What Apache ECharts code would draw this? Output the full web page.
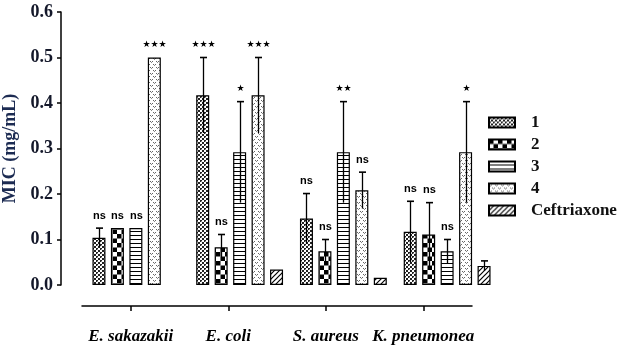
<!DOCTYPE html>
<html><head><meta charset="utf-8">
<script src="https://cdn.jsdelivr.net/npm/echarts@6/dist/echarts.min.js"></script>
<style>html,body{margin:0;padding:0;background:#fff}#c{width:624px;height:348px}</style>
</head><body><div id="c"></div>
<script>
// ---- data ----
const categories = ['E. sakazakii', 'E. coli', 'S. aureus', 'K. pneumonea'];
const seriesNames = ['1', '2', '3', '4', 'Ceftriaxone'];
const s1 = [0.104, 0.417, 0.146, 0.117];
const s2 = [0.125, 0.083, 0.074, 0.111];
const s3 = [0.125, 0.292, 0.292, 0.074];
const s4 = [0.500, 0.417, 0.208, 0.292];
const s5 = [null, 0.034, 0.016, 0.042];
const e1 = [0.021, 0.083, 0.055, 0.067];
const e2 = [0, 0.028, 0.026, 0.070];
const e3 = [0, 0.111, 0.111, 0.026];
const e4 = [0, 0.083, 0.040, 0.111];
const e5 = [0, 0, 0, 0.011];
const sig1 = ['ns', '***', 'ns', 'ns'];
const sig2 = ['ns', 'ns', 'ns', 'ns'];
const sig3 = ['ns', '*', '**', 'ns'];
const sig4 = ['***', '***', 'ns', '*'];
const sig5 = ['', '', '', ''];
const yTicks = [0, 0.1, 0.2, 0.3, 0.4, 0.5, 0.6];

const values = [s1, s2, s3, s4, s5];
const errors = [e1, e2, e3, e4, e5];
const sigs = [sig1, sig2, sig3, sig4, sig5];

// ---- patterns ----
function tile(w, h, draw) {
  const c = document.createElement('canvas');
  c.width = w; c.height = h;
  const g = c.getContext('2d');
  g.fillStyle = '#fff'; g.fillRect(0, 0, w, h);
  draw(g);
  return { image: c, repeat: 'repeat' };
}
const patterns = [
  tile(4, 4, g => { g.fillStyle = '#222'; g.fillRect(0, 0, 2, 2); g.fillRect(2, 2, 2, 2); g.fillStyle='#999'; g.fillRect(1,1,1,1); }),
  tile(9, 9, g => { g.fillStyle = '#000'; g.fillRect(0, 0, 4.5, 4.5); g.fillRect(4.5, 4.5, 4.5, 4.5); }),
  tile(4, 4, g => { g.fillStyle = '#000'; g.fillRect(0, 3, 4, 1.2); }),
  tile(6, 6, g => { g.strokeStyle = '#666'; g.lineWidth = 1; g.beginPath(); g.moveTo(0, 1); g.lineTo(1.5, 2.5); g.lineTo(3, 1); g.moveTo(3, 4); g.lineTo(4.5, 5.5); g.lineTo(6, 4); g.stroke(); }),
  tile(5, 5, g => { g.strokeStyle = '#000'; g.lineWidth = 1.2; g.beginPath(); g.moveTo(-1, 6); g.lineTo(6, -1); g.moveTo(-1, 1); g.lineTo(1, -1); g.moveTo(4, 6); g.lineTo(6, 4); g.stroke(); })
];

const BAR_W = 13, BAR_GAP = 0.42;
const serif = '"Liberation Serif", "Times New Roman", serif';

const series = [];
seriesNames.forEach((name, k) => {
  series.push({
    name, type: 'bar', xAxisIndex: 0, yAxisIndex: 0,
    data: values[k], barWidth: BAR_W, barGap: (BAR_GAP * 100) + '%',
    itemStyle: { color: patterns[k], borderColor: '#000', borderWidth: 1.2 },
    emphasis: { disabled: true }, animation: false
  });
});
seriesNames.forEach((name, k) => {
  series.push({
    type: 'custom', xAxisIndex: 0, yAxisIndex: 0, z: 5, animation: false,
    data: values[k].map((v, i) => [i, v == null ? NaN : v, errors[k][i]]),
    renderItem(params, api) {
      const v = api.value(1);
      if (isNaN(v)) return null;
      const i = params.dataIndex;
      const e = api.value(2);
      const off = (k - 2) * BAR_W * (1 + BAR_GAP);
      const top = api.coord([api.value(0), v + e]);
      const bot = api.coord([api.value(0), v - e]);
      const x = Math.round(top[0] + off) + 0.5;
      const children = [];
      if (e > 0) {
        children.push({ type: 'line', shape: { x1: x, y1: top[1], x2: x, y2: bot[1] }, style: { stroke: '#000', lineWidth: 1.3 } });
        children.push({ type: 'line', shape: { x1: x - 3.5, y1: top[1], x2: x + 3.5, y2: top[1] }, style: { stroke: '#000', lineWidth: 1.6 } });
      }
      const t = sigs[k][i];
      if (t) {
        const isStar = t[0] === '*';
        children.push({ type: 'text', style: {
          text: isStar ? t.replace(/\*/g, '★') : t,
          x: x, y: top[1] - (isStar ? 8 : 7), align: 'center', verticalAlign: 'bottom',
          font: isStar ? '9px "DejaVu Sans"' : 'bold 11px "Liberation Sans"', fill: '#000' } });
      }
      return { type: 'group', children };
    }
  });
});

const chart = echarts.init(document.getElementById('c'), null, { renderer: 'canvas' });
chart.setOption({
  animation: false,
  backgroundColor: '#fff',
  grid: [
    { left: 84, right: 125, top: 12, bottom: 63, containLabel: false, outerBoundsMode: 'none' },
    { left: 82, right: 152, top: 12, bottom: 42, containLabel: false, outerBoundsMode: 'none' }
  ],
  legend: {
    data: seriesNames, orient: 'vertical', left: 483, top: 109,
    itemWidth: 26, itemHeight: 10, itemGap: 5, icon: 'rect',
    textStyle: { fontFamily: serif, fontWeight: 'bold', fontSize: 17, color: '#111', padding: [0, 0, 0, 11] },
    selectedMode: false
  },
  xAxis: [
    { type: 'category', gridIndex: 0, data: categories, show: false },
    { type: 'category', gridIndex: 1, data: categories, show: true,
      axisLine: { show: true, lineStyle: { color: '#000', width: 1.5 } },
      axisTick: { show: true, alignWithLabel: true, interval: 0, length: 5, lineStyle: { color: '#000', width: 1.5 } },
      axisLabel: { interval: 0, margin: 22, fontFamily: serif, fontStyle: 'italic', fontWeight: 'bold', fontSize: 17, color: '#000' } }
  ],
  yAxis: [
    { type: 'value', gridIndex: 0, min: 0, max: 0.6, interval: 0.1, offset: 23,
      name: 'MIC (mg/mL)', nameLocation: 'middle', nameRotate: 90, nameGap: 33,
      nameTextStyle: { fontFamily: serif, fontWeight: 'bold', fontSize: 18, color: '#1c2b52' },
      axisLine: { show: true, lineStyle: { color: '#000', width: 1.5 } },
      axisTick: { show: true, length: 4, lineStyle: { color: '#000', width: 1.5 } },
      splitLine: { show: false },
      axisLabel: { margin: 8, fontFamily: serif, fontWeight: 'bold', fontSize: 18, color: '#14182a',
        formatter: v => (yTicks.find(t => Math.abs(t - v) < 1e-9) ?? v).toFixed(1) } },
    { type: 'value', gridIndex: 1, show: false, min: 0, max: 1 }
  ],
  series
});
</script></body></html>
